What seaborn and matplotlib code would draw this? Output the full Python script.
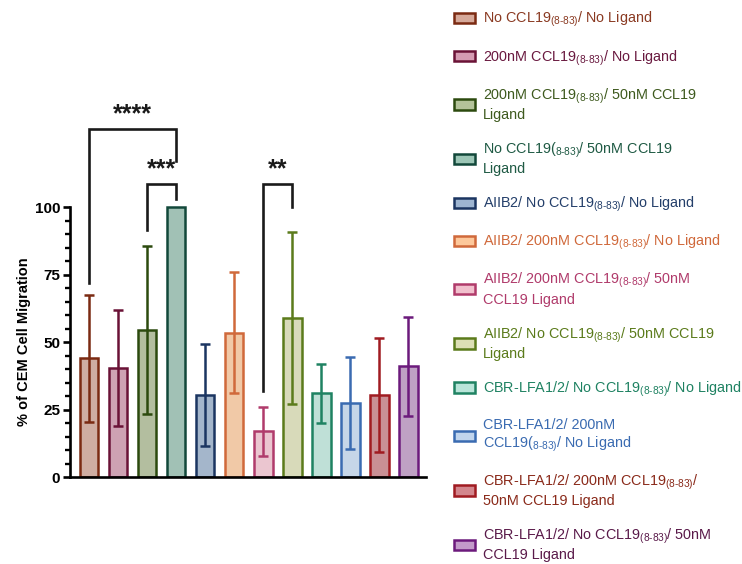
import numpy as np
import pandas as pd
import matplotlib
matplotlib.use("Agg")
import matplotlib.pyplot as plt
from matplotlib.patches import Patch
from matplotlib.ticker import FixedLocator
import seaborn as sns

# data
conditions = [
    "No CCL19$_{\\text{(8-83)}}$/ No Ligand",
    "200nM CCL19$_{\\text{(8-83)}}$/ No Ligand",
    "200nM CCL19$_{\\text{(8-83)}}$/ 50nM CCL19\nLigand",
    "No CCL19($_{\\text{8-83)}}$/ 50nM CCL19\nLigand",
    "AIIB2/ No CCL19$_{\\text{(8-83)}}$/ No Ligand",
    "AIIB2/ 200nM CCL19$_{\\text{(8-83)}}$/ No Ligand",
    "AIIB2/ 200nM CCL19$_{\\text{(8-83)}}$/ 50nM\nCCL19 Ligand",
    "AIIB2/ No CCL19$_{\\text{(8-83)}}$/ 50nM CCL19\nLigand",
    "CBR-LFA1/2/ No CCL19$_{\\text{(8-83)}}$/ No Ligand",
    "CBR-LFA1/2/ 200nM\nCCL19($_{\\text{8-83)}}$/ No Ligand",
    "CBR-LFA1/2/ 200nM CCL19$_{\\text{(8-83)}}$/\n50nM CCL19 Ligand",
    "CBR-LFA1/2/ No CCL19$_{\\text{(8-83)}}$/ 50nM\nCCL19 Ligand",
]
migration = [44, 40.5, 54.5, 100, 30.5, 53.5, 17, 59, 31, 27.5, 30.5, 41]
sd = [23.5, 21.5, 31, 0, 19, 22.5, 9, 32, 11, 17, 21, 18.5]

fill_colors = ["#d6a99a", "#d59bb2", "#b4c39a", "#9cc6b6", "#9eb5d1", "#fdc89b",
               "#f1c0cd", "#dcdfb5", "#b9e5d9", "#c1d5ed", "#d3868d", "#c39bca"]
edge_colors = ["#7b2a12", "#6a1236", "#2c4a0e", "#12483a", "#1b3561", "#d0693b",
               "#b03b6b", "#5b7b1b", "#1f8262", "#3a6bb1", "#a01b21", "#6c1a7c"]
text_colors = ["#8a3a22", "#6a1a40", "#3e5a1e", "#1f5a44", "#243f6a", "#d0693b",
               "#b03b6b", "#5b7b1b", "#1f8262", "#3a6bb1", "#8a2a1a", "#5a1a4a"]

# significance brackets: (left bar, right bar, top, left leg end, right leg end, label)
brackets = [(0, 3, 129, 72, 117, "****"),
            (2, 3, 108.5, 91.5, 103, "***"),
            (6, 7, 108.5, 32, 100, "**")]

plt.rcParams["mathtext.fontset"] = "custom"
plt.rcParams["mathtext.rm"] = "Liberation Sans"
plt.rcParams["font.family"] = "Liberation Sans"

df = pd.DataFrame({"cond": conditions, "migration": migration})

fig = plt.figure(figsize=(7.42, 5.64), dpi=100)
ax = fig.add_axes([0.094, 0.154, 0.48, 0.67])

sns.barplot(data=df, x="cond", y="migration", hue="cond", palette=fill_colors,
            width=0.64, legend=False, ax=ax)
for patch, ec in zip(ax.patches, edge_colors):
    patch.set_edgecolor(ec)
    patch.set_linewidth(1.8)

for i, (m, s) in enumerate(zip(migration, sd)):
    if s > 0:
        ax.errorbar(i, m, yerr=s, color=edge_colors[i], capsize=3.8,
                    elinewidth=1.8, capthick=1.8, fmt="none")

for l, r, top, yl, yr, lab in brackets:
    ax.plot([l, l, r, r], [yl, top, top, yr], color="#1a1a1a", lw=1.9,
            solid_joinstyle="miter")
    ax.text((l + r) / 2, top + 1, lab, ha="center", va="bottom",
            fontsize=18, fontweight="bold", color="#1a1a1a")

ax.set_ylim(0, 140)
ax.set_xlim(-0.66, 11.6)
ax.spines["left"].set_bounds(0, 100)
ax.spines[["top", "right"]].set_visible(False)
for sp in ["left", "bottom"]:
    ax.spines[sp].set_linewidth(1.9)
ax.set_yticks([0, 25, 50, 75, 100])
ax.yaxis.set_minor_locator(FixedLocator(range(0, 101, 5)))
ax.tick_params(axis="y", which="major", length=5, width=1.9, labelsize=11, pad=2)
ax.tick_params(axis="y", which="minor", length=3.5, width=1.7)
for t in ax.get_yticklabels():
    t.set_fontweight("bold")
ax.set_xticks([])
ax.set_xlabel("")
ax.set_ylabel("% of CEM Cell Migration", fontsize=10.5, fontweight="bold")
ax.yaxis.set_label_coords(-0.11, 50 / 140)

handles = [Patch(facecolor=f, edgecolor=e, linewidth=1.8)
           for f, e in zip(fill_colors, edge_colors)]
leg = fig.legend(handles, conditions, loc="upper left", bbox_to_anchor=(0.594, 1.005),
                 frameon=False, fontsize=10.4, handlelength=1.45, handleheight=0.7,
                 labelspacing=1.3, handletextpad=0.6)
for t, c in zip(leg.get_texts(), text_colors):
    t.set_color(c)

fig.savefig("out.png", dpi=100)
